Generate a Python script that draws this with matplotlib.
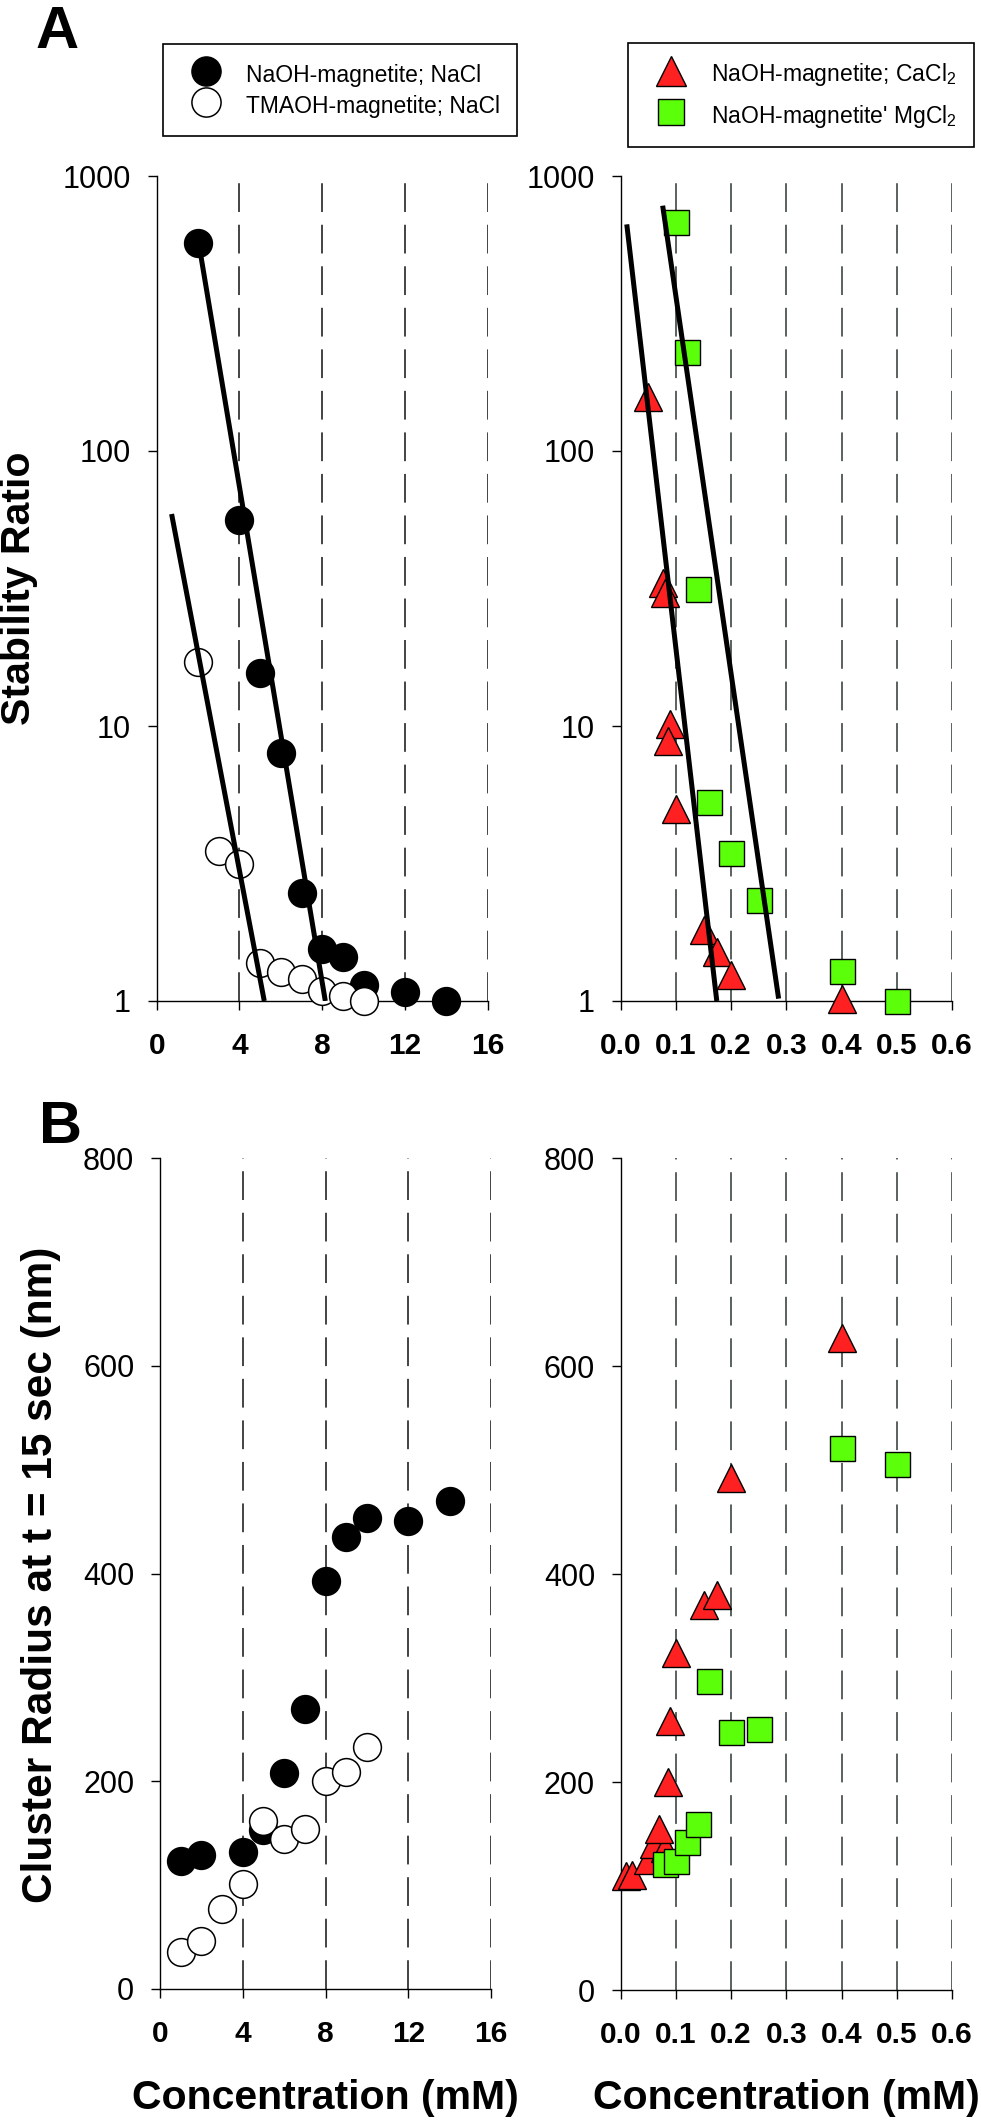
import matplotlib
matplotlib.use("Agg")
import matplotlib.pyplot as plt
from matplotlib.lines import Line2D
from matplotlib.ticker import NullLocator

plt.rcParams['font.family'] = ['Liberation Sans', 'DejaVu Sans']
plt.rcParams['mathtext.fontset'] = 'custom'
plt.rcParams['mathtext.rm'] = 'Liberation Sans'
plt.rcParams['mathtext.it'] = 'Liberation Sans:italic'
plt.rcParams['mathtext.bf'] = 'Liberation Sans:bold'

# --- panel A: stability ratio ---
naoh_nacl_conc = [2, 4, 5, 6, 7, 8, 9, 10, 12, 14]
naoh_nacl_ratio = [570, 56, 15.6, 8.0, 2.46, 1.55, 1.45, 1.14, 1.075, 1.0]
tmaoh_nacl_conc = [2, 3, 4, 5, 6, 7, 8, 9, 10]
tmaoh_nacl_ratio = [17.1, 3.5, 3.15, 1.38, 1.28, 1.2, 1.09, 1.04, 1.0]
fit_naoh_nacl_x = [2.05, 8.15]
fit_naoh_nacl_y = [560, 1.0]
fit_tmaoh_nacl_x = [0.72, 5.2]
fit_tmaoh_nacl_y = [59, 1.0]

cacl2_conc = [0.05, 0.076, 0.08, 0.089, 0.085, 0.1, 0.15, 0.175, 0.2, 0.4]
cacl2_ratio = [157, 33, 30.4, 10.2, 8.8, 5.0, 1.81, 1.51, 1.24, 1.02]
mgcl2_conc = [0.1, 0.12, 0.14, 0.16, 0.2, 0.25, 0.4, 0.5]
mgcl2_ratio = [680, 230, 31.5, 5.3, 3.46, 2.33, 1.29, 1.0]
fit_ca_x = [0.011, 0.174]
fit_ca_y = [667, 1.0]
fit_mg_x = [0.076, 0.286]
fit_mg_y = [780, 1.02]

# --- panel B: cluster radius at t = 15 s ---
naoh_rad_conc = [1, 2, 4, 5, 6, 7, 8, 9, 10, 12, 14]
naoh_rad = [123, 129, 132, 153, 208, 270, 393, 435, 453, 451, 470]
tmaoh_rad_conc = [1, 2, 3, 4, 5, 6, 7, 8, 9, 10]
tmaoh_rad = [36, 46, 77, 101, 162, 144, 154, 200, 209, 233]
ca_rad_conc = [0.01, 0.02, 0.05, 0.06, 0.08, 0.07, 0.085, 0.09, 0.1, 0.15, 0.175, 0.2, 0.4]
ca_rad = [110, 111, 125, 140, 137, 155, 200, 259, 324, 370, 380, 492, 627]
mg_rad_conc = [0.08, 0.1, 0.12, 0.14, 0.16, 0.2, 0.25, 0.4, 0.5]
mg_rad = [121, 124, 142, 160, 297, 248, 251, 521, 506]

nacl_ticks = [0, 4, 8, 12, 16]
div_ticks = [0.0, 0.1, 0.2, 0.3, 0.4, 0.5, 0.6]
div_labels = ['0.0', '0.1', '0.2', '0.3', '0.4', '0.5', '0.6']

RED = '#ff2121'
GREEN = '#5cff0a'
W, H = 981, 2120


def px_axes(fig, x0, y0, x1, y1):
    return fig.add_axes([x0 / W, 1 - y1 / H, (x1 - x0) / W, (y1 - y0) / H])


def style(ax, grid_color):
    for s in ['top', 'right']:
        ax.spines[s].set_visible(False)
    for s in ['left', 'bottom']:
        ax.spines[s].set_linewidth(1.0)
    ax.tick_params(direction='out', length=6.5, width=1.0)
    ax.tick_params(axis='y', labelsize=22, pad=12)
    ax.tick_params(axis='x', labelsize=21.5, pad=16)
    ax.grid(axis='x', color=grid_color, linestyle=(0, (18, 8)), linewidth=1.15)
    ax.set_axisbelow(True)


fig = plt.figure(figsize=(W / 100, H / 100), dpi=100)

ax1 = px_axes(fig, 156.7, 176, 487.7, 1001)
ax2 = px_axes(fig, 620.7, 176, 952, 1001)
ax3 = px_axes(fig, 160, 1158, 491, 1989)
ax4 = px_axes(fig, 620.7, 1158, 952, 1990)

circ = dict(ls='none', marker='o', ms=20, mec='black', mew=1.1, clip_on=False, zorder=3)
tri = dict(ls='none', marker='^', ms=20, mfc=RED, mec='black', mew=1.0, clip_on=False, zorder=3)
sq = dict(ls='none', marker='s', ms=18, mfc=GREEN, mec='black', mew=1.0, clip_on=False, zorder=3)
fit = dict(color='black', lw=3.6, solid_capstyle='butt', zorder=4)

# top left
ax1.plot(naoh_nacl_conc, naoh_nacl_ratio, mfc='black', **circ)
ax1.plot(tmaoh_nacl_conc, tmaoh_nacl_ratio, mfc='white', **circ)
ax1.plot(fit_naoh_nacl_x, fit_naoh_nacl_y, **fit)
ax1.plot(fit_tmaoh_nacl_x, fit_tmaoh_nacl_y, **fit)

# top right
ax2.plot(cacl2_conc, cacl2_ratio, **tri)
ax2.plot(mgcl2_conc, mgcl2_ratio, **sq)
ax2.plot(fit_ca_x, fit_ca_y, **fit)
ax2.plot(fit_mg_x, fit_mg_y, **fit)

for ax in (ax1, ax2):
    ax.set_yscale('log')
    ax.set_ylim(1, 1000)
    ax.set_yticks([1, 10, 100, 1000], ['1', '10', '100', '1000'])
    ax.yaxis.set_minor_locator(NullLocator())

# bottom left
ax3.plot(naoh_rad_conc, naoh_rad, mfc='black', **circ)
ax3.plot(tmaoh_rad_conc, tmaoh_rad, mfc='white', **circ)

# bottom right
ax4.plot(ca_rad_conc, ca_rad, **tri)
ax4.plot(mg_rad_conc, mg_rad, **sq)

for ax in (ax3, ax4):
    ax.set_ylim(0, 800)
    ax.set_yticks([0, 200, 400, 600, 800])

for ax in (ax1, ax3):
    ax.set_xlim(0, 16)
    ax.set_xticks(nacl_ticks, [str(t) for t in nacl_ticks], fontweight='bold')
    style(ax, '#1a1a1a')
for ax in (ax2, ax4):
    ax.set_xlim(0, 0.6)
    ax.set_xticks(div_ticks, div_labels, fontweight='bold')
    style(ax, '#333d3d')

# legends
leg_kw = dict(loc='upper left', bbox_transform=fig.transFigure, frameon=True,
              fancybox=False, edgecolor='black', framealpha=1, fontsize=16.5,
              borderpad=0.74, handlelength=2.27, handletextpad=0.61,
              handleheight=1.5, borderaxespad=0)
h_left = [Line2D([], [], ls='none', marker='o', ms=21, mfc='black', mec='black'),
          Line2D([], [], ls='none', marker='o', ms=21, mfc='white', mec='black', mew=1.1)]
leg1 = fig.legend(h_left, ['NaOH-magnetite; NaCl', 'TMAOH-magnetite; NaCl'],
                  bbox_to_anchor=(163 / W, 1 - 43.6 / H), labelspacing=0.13, **leg_kw)
leg1.get_frame().set_linewidth(1.2)
h_right = [Line2D([], [], ls='none', marker='^', ms=21, mfc=RED, mec='black'),
           Line2D([], [], ls='none', marker='s', ms=19, mfc=GREEN, mec='black')]
leg2 = fig.legend(h_right, ['NaOH-magnetite; CaCl$_2$', "NaOH-magnetite' MgCl$_2$"],
                  bbox_to_anchor=(628 / W, 1 - 43 / H), labelspacing=0.57, **leg_kw)
leg2.get_frame().set_linewidth(1.2)

# axis titles and panel letters
fig.text(19 / W, 1 - 588.5 / H, 'Stability Ratio', rotation=90, ha='center',
         va='center', fontsize=29.5, fontweight='bold')
fig.text(41 / W, 1 - 1575 / H, 'Cluster Radius at t = 15 sec (nm)', rotation=90,
         ha='center', va='center', fontsize=30.5, fontweight='bold')
fig.text(325.5 / W, 1 - 2098 / H, 'Concentration (mM)', ha='center', va='center',
         fontsize=29.5, fontweight='bold')
fig.text(786.3 / W, 1 - 2098 / H, 'Concentration (mM)', ha='center', va='center',
         fontsize=29.5, fontweight='bold')
fig.text(36 / W, 1 - 48 / H, 'A', fontsize=43, fontweight='bold', va='baseline')
fig.text(39 / W, 1 - 1143 / H, 'B', fontsize=43, fontweight='bold', va='baseline')

fig.savefig('out.png', dpi=100)
